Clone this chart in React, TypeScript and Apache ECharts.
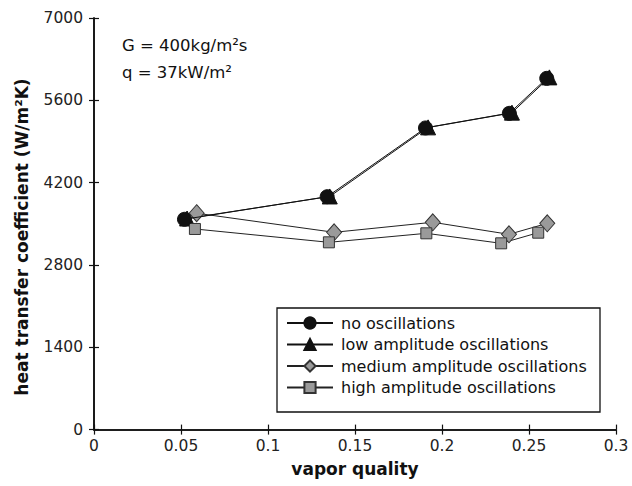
import React, { useEffect, useRef } from "react";
import * as echarts from "echarts";

// Measured heat transfer coefficient vs. vapor quality
const noOscX = [0.052, 0.134, 0.1905, 0.2387, 0.2602];
const noOscY = [3577, 3961, 5130, 5379, 5974];
const lowOscX = [0.0535, 0.1355, 0.192, 0.2402, 0.2617];
const lowOscY = [3590, 3965, 5140, 5390, 5990];
const medOscX = [0.059, 0.138, 0.1947, 0.2385, 0.2605];
const medOscY = [3680, 3355, 3526, 3321, 3508];
const highOscX = [0.058, 0.135, 0.191, 0.234, 0.2553];
const highOscY = [3412, 3185, 3338, 3168, 3349];

const seriesNames = [
  "no oscillations",
  "low amplitude oscillations",
  "medium amplitude oscillations",
  "high amplitude oscillations",
];

const xTicks = { min: 0, max: 0.3, interval: 0.05 };
const yTicks = { min: 0, max: 7000, interval: 1400 };

const pairs = (xs: number[], ys: number[]) => xs.map((x, i) => [x, ys[i]]);

const FONT = "'DejaVu Sans', 'Liberation Sans', Arial, sans-serif";

export default function App() {
  const ref = useRef<HTMLDivElement>(null);

  useEffect(() => {
    if (!ref.current) return;
    const chart = echarts.init(ref.current, undefined, { renderer: "svg" });

    const frame = { show: true, lineStyle: { color: "#111", width: 1.6 } };
    const tick = { show: true, inside: true, length: 5, lineStyle: { color: "#111", width: 1.2 } };

    const xBase = {
      type: "value" as const,
      min: xTicks.min,
      max: xTicks.max,
      interval: xTicks.interval,
      splitLine: { show: false },
      axisLine: frame,
      axisTick: tick,
    };
    const yBase = {
      type: "value" as const,
      min: yTicks.min,
      max: yTicks.max,
      interval: yTicks.interval,
      splitLine: { show: false },
      axisLine: frame,
      axisTick: tick,
    };

    chart.setOption({
      animation: false,
      backgroundColor: "#fff",
      textStyle: { fontFamily: FONT },
      grid: { left: 94, top: 18, width: 522, height: 411.6 },
      xAxis: [
        {
          ...xBase,
          position: "bottom",
          axisLabel: {
            color: "#222",
            fontSize: 15.5,
            fontFamily: FONT,
            margin: 8,
            formatter: (v: number) => String(parseFloat(v.toFixed(2))),
          },
          name: "vapor quality",
          nameLocation: "middle",
          nameGap: 31,
          nameTextStyle: { color: "#111", fontSize: 17, fontWeight: "bold", fontFamily: FONT },
        },
        { ...xBase, position: "top", axisLabel: { show: false } },
      ],
      yAxis: [
        {
          ...yBase,
          position: "left",
          axisLabel: {
            color: "#222",
            fontSize: 15.5,
            fontFamily: FONT,
            margin: 11,
            formatter: (v: number) => String(v),
          },
        },
        { ...yBase, position: "right", axisLabel: { show: false } },
      ],
      graphic: [
        {
          type: "text",
          x: 22,
          y: 237,
          rotation: Math.PI / 2,
          style: {
            text: "heat transfer coefficient (W/m²K)",
            fill: "#111",
            font: `bold 17px ${FONT}`,
            align: "center",
            verticalAlign: "middle",
          },
        },
        {
          type: "text",
          x: 122,
          y: 45,
          style: {
            text: "G = 400kg/m²s",
            fill: "#111",
            font: `16.5px ${FONT}`,
            align: "left",
            verticalAlign: "middle",
          },
        },
        {
          type: "text",
          x: 122,
          y: 72,
          style: {
            text: "q = 37kW/m²",
            fill: "#111",
            font: `16.5px ${FONT}`,
            align: "left",
            verticalAlign: "middle",
          },
        },
        {
          type: "rect",
          shape: { x: 277, y: 308, width: 323, height: 104 },
          style: { fill: "#fff", stroke: "#111", lineWidth: 1.3 },
          z: 5,
        },
      ],
      legend: {
        orient: "vertical",
        left: 286,
        top: 315,
        padding: 0,
        itemWidth: 46,
        itemHeight: 14,
        itemGap: 5.5,
        z: 10,
        textStyle: { color: "#111", fontSize: 16, lineHeight: 16, fontFamily: FONT, padding: [0, 0, 0, 3] },
        data: seriesNames,
      },
      series: [
        {
          name: seriesNames[0],
          type: "line",
          data: pairs(noOscX, noOscY),
          symbol: "circle",
          symbolSize: 14,
          itemStyle: { color: "#111", borderColor: "#111", borderWidth: 1 },
          lineStyle: { color: "#111", width: 1 },
          z: 4,
        },
        {
          name: seriesNames[1],
          type: "line",
          data: pairs(lowOscX, lowOscY),
          symbol: "triangle",
          symbolSize: 15,
          itemStyle: { color: "#111", borderColor: "#111", borderWidth: 1 },
          lineStyle: { color: "#111", width: 1 },
          z: 3,
        },
        {
          name: seriesNames[2],
          type: "line",
          data: pairs(medOscX, medOscY),
          symbol: "diamond",
          symbolSize: [15, 17],
          itemStyle: { color: "#9a9a9a", borderColor: "#333", borderWidth: 1 },
          lineStyle: { color: "#222", width: 1 },
          z: 3,
        },
        {
          name: seriesNames[3],
          type: "line",
          data: pairs(highOscX, highOscY),
          symbol: "rect",
          symbolSize: 11,
          itemStyle: { color: "#9a9a9a", borderColor: "#333", borderWidth: 1 },
          lineStyle: { color: "#222", width: 1 },
          z: 3,
        },
      ],
    });

    return () => chart.dispose();
  }, []);

  return (
    <div
      ref={ref}
      style={{ position: "absolute", left: 0, top: 0, width: 632, height: 486 }}
    />
  );
}
